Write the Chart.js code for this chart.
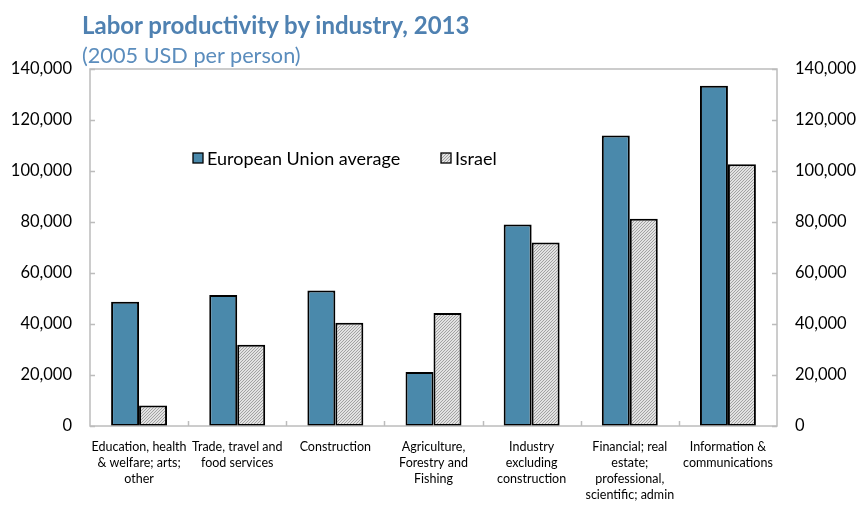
<!DOCTYPE html>
<html>
<head>
<meta charset="utf-8">
<script src="https://cdn.jsdelivr.net/npm/chart.js@4/dist/chart.umd.min.js"></script>
<style>
    body { margin: 0; background: #fff; }
    .wrap { position: relative; width: 856px; height: 506px; }
    .title { position: absolute; left: 82px; top: 10px; font: bold 24px Lato, sans-serif; color: #4f81b1; }
    .subtitle { position: absolute; left: 82px; top: 42px; font: 21.7px Lato, sans-serif; color: #5b8dbd; }
    canvas { position: absolute; left: 0; top: 0; }
</style>
</head>
<body>
<div class="wrap">
    <canvas id="chart" width="856" height="506"></canvas>
    <div class="title">Labor productivity by industry, 2013</div>
    <div class="subtitle">(2005 USD per person)</div>
</div>
<script>
let INDUSTRIES = [
    ['Education, health', '& welfare; arts;', 'other'],
    ['Trade, travel and', 'food services'],
    ['Construction'],
    ['Agriculture,', 'Forestry and', 'Fishing'],
    ['Industry', 'excluding', 'construction'],
    ['Financial; real', 'estate;', 'professional,', 'scientific; admin'],
    ['Information &', 'communications']
]
let EU_AVERAGE = [48700, 51400, 53100, 21200, 79000, 113900, 133400]
let ISRAEL = [8000, 31900, 40500, 44300, 72000, 81300, 102600]
let Y_MAX = 140000
let Y_STEP = 20000

// fine diagonal hatch used for the Israel bars
function hatch() {
    let c = document.createElement('canvas')
    c.width = 3
    c.height = 3
    let g = c.getContext('2d')
    g.fillStyle = '#e2e2e2'
    g.fillRect(0, 0, 3, 3)
    g.fillStyle = '#a2a2a2'
    for (let i = 0; i < 3; i++) {
        g.fillRect(i, 2 - i, 1, 1)
    }
    return g.createPattern(c, 'repeat')
}

let ctx = document.getElementById('chart').getContext('2d')
let pattern = hatch()

// frame around the plot area plus inward tick marks
let frame = {
    id: 'frame',
    afterDraw(chart) {
        let a = chart.chartArea
        let g = chart.ctx
        g.save()
        g.strokeStyle = '#bcbcbc'
        g.lineWidth = 1.5
        g.strokeRect(a.left, a.top, a.right - a.left, a.bottom - a.top)
        let y = chart.scales.y
        y.ticks.forEach(t => {
            let py = Math.round(y.getPixelForValue(t.value)) + 0.5
            g.beginPath()
            g.moveTo(a.left, py)
            g.lineTo(a.left + 5, py)
            g.moveTo(a.right, py)
            g.lineTo(a.right - 5, py)
            g.stroke()
        })
        let x = chart.scales.x
        for (let i = 1; i < INDUSTRIES.length; i++) {
            let px = Math.round((x.getPixelForValue(i - 1) + x.getPixelForValue(i)) / 2) + 0.5
            g.beginPath()
            g.moveTo(px, a.bottom)
            g.lineTo(px, a.bottom - 5)
            g.stroke()
        }
        g.restore()
    }
}

// legend drawn inside the plot area
let legendInside = {
    id: 'legendInside',
    afterDraw(chart) {
        let a = chart.chartArea
        let g = chart.ctx
        let spots = [a.left + 103, a.left + 351]
        g.save()
        g.font = '18px Lato, sans-serif'
        g.textBaseline = 'middle'
        chart.data.datasets.forEach((ds, i) => {
            let bx = spots[i]
            let by = a.top + 84
            g.fillStyle = ds.backgroundColor
            g.fillRect(bx, by, 10, 10)
            g.strokeStyle = '#000'
            g.lineWidth = 1.3
            g.strokeRect(bx, by, 10, 10)
            g.fillStyle = '#000'
            g.fillText(ds.label, bx + 14, by + 6)
        })
        g.restore()
    }
}

let tickFont = { family: 'Lato, sans-serif', size: 16.5 }

new Chart(ctx, {
    type: 'bar',
    data: {
        labels: INDUSTRIES,
        datasets: [{
            label: 'European Union average',
            data: EU_AVERAGE,
            backgroundColor: '#4a89ab',
            borderColor: '#000',
            borderWidth: 2,
            borderSkipped: false
        }, {
            label: 'Israel',
            data: ISRAEL,
            backgroundColor: pattern,
            borderColor: '#000',
            borderWidth: 2,
            borderSkipped: false
        }]
    },
    options: {
        responsive: false,
        animation: false,
        layout: { padding: { top: 69, right: 0, left: 0, bottom: 0 } },
        plugins: {
            legend: { display: false },
            tooltip: { enabled: false }
        },
        datasets: {
            bar: { categoryPercentage: 0.57, barPercentage: 1.0 }
        },
        scales: {
            x: {
                grid: { display: false, drawTicks: false },
                border: { display: false },
                ticks: {
                    autoSkip: false,
                    maxRotation: 0,
                    padding: 13,
                    color: '#000',
                    font: { family: 'Lato, sans-serif', size: 12.5, lineHeight: 1.28 }
                },
                afterFit(s) { s.height = 80 }
            },
            y: {
                min: 0,
                max: Y_MAX,
                position: 'left',
                grid: { display: false, drawTicks: false },
                border: { display: false },
                ticks: {
                    stepSize: Y_STEP,
                    padding: 18,
                    color: '#000',
                    font: tickFont,
                    callback: v => v.toLocaleString('en-US')
                },
                afterFit(s) { s.width = 90 }
            },
            y2: {
                min: 0,
                max: Y_MAX,
                position: 'right',
                grid: { display: false, drawTicks: false },
                border: { display: false },
                ticks: {
                    stepSize: Y_STEP,
                    padding: 18,
                    color: '#000',
                    font: tickFont,
                    callback: v => v.toLocaleString('en-US')
                },
                afterFit(s) { s.width = 79 }
            }
        }
    },
    plugins: [frame, legendInside]
})
</script>
</body>
</html>
